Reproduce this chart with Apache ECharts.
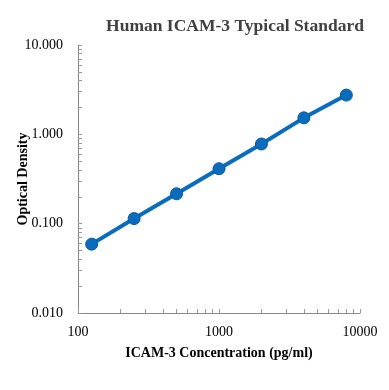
<!DOCTYPE html>
<html>
<head>
<meta charset="utf-8">
<script src="https://cdn.jsdelivr.net/npm/echarts@6/dist/echarts.min.js"></script>
<style>html,body{margin:0;padding:0;background:#fff;}#c{width:389px;height:390px;}</style>
</head>
<body>
<div id="c"></div>
<script>
var concentrations = [125, 250, 500, 1000, 2000, 4000, 8000];
var opticalDensity = [0.059, 0.114, 0.216, 0.412, 0.78, 1.53, 2.75];
var xTickLabels = ['100', '1000', '10000'];
var yTickLabels = ['0.010', '0.100', '1.000', '10.000'];

function logTicks(lo, hi) {
  var out = [];
  for (var d = lo; d < hi * 0.999; d *= 10) {
    for (var k = 1; k <= 9; k++) out.push(+(d * k).toPrecision(6));
  }
  out.push(hi);
  return out;
}
var xTickVals = xTickLabels.map(Number);
var yTickVals = yTickLabels.map(Number);

var chart = echarts.init(document.getElementById('c'), null, {renderer: 'canvas'});
var serif = '"Liberation Serif", "Times New Roman", serif';
chart.setOption({
  animation: false,
  backgroundColor: '#fff',
  title: {
    text: 'Human ICAM-3 Typical Standard',
    left: 230, top: 12, textAlign: 'center',
    textStyle: {fontFamily: serif, fontSize: 17.5, fontWeight: 'bold', color: '#404040'}
  },
  grid: {left: 78, right: 29, top: 45, bottom: 77, containLabel: false, outerBoundsMode: 'none'},
  xAxis: {
    type: 'log', logBase: 10, min: 100, max: 10000,
    name: 'ICAM-3 Concentration (pg/ml)', nameLocation: 'middle', nameGap: 33, nameMoveOverlap: false,
    nameTextStyle: {fontFamily: serif, fontSize: 14, fontWeight: 'bold', color: '#000'},
    axisLine: {lineStyle: {color: '#888', width: 1}},
    axisTick: {show: true, inside: true, length: 4, lineStyle: {color: '#999'}, customValues: logTicks(100, 10000)},
    axisLabel: {fontFamily: serif, fontSize: 14, color: '#000', margin: 12, customValues: xTickVals,
      formatter: function (v) { return String(Math.round(v)); }},
    splitLine: {show: false}, minorTick: {show: false}
  },
  yAxis: {
    type: 'log', logBase: 10, min: 0.01, max: 10,
    name: 'Optical Density', nameLocation: 'middle', nameGap: 48, nameRotate: 90, nameMoveOverlap: false,
    nameTextStyle: {fontFamily: serif, fontSize: 14, fontWeight: 'bold', color: '#000'},
    axisLine: {show: true, lineStyle: {color: '#888', width: 1}},
    axisTick: {show: true, inside: true, length: 4, lineStyle: {color: '#999'}, customValues: logTicks(0.01, 10)},
    axisLabel: {fontFamily: serif, fontSize: 14, color: '#000', margin: 15, customValues: yTickVals,
      formatter: function (v) { return Number(v).toFixed(3); }},
    splitLine: {show: false}
  },
  series: [{
    type: 'line',
    data: concentrations.map(function (c, i) { return [c, opticalDensity[i]]; }),
    symbol: 'circle', symbolSize: 12,
    lineStyle: {color: '#0a6cbd', width: 4},
    itemStyle: {color: '#0a6cbd', borderColor: '#0759a0', borderWidth: 1}
  }]
});
</script>
</body>
</html>
